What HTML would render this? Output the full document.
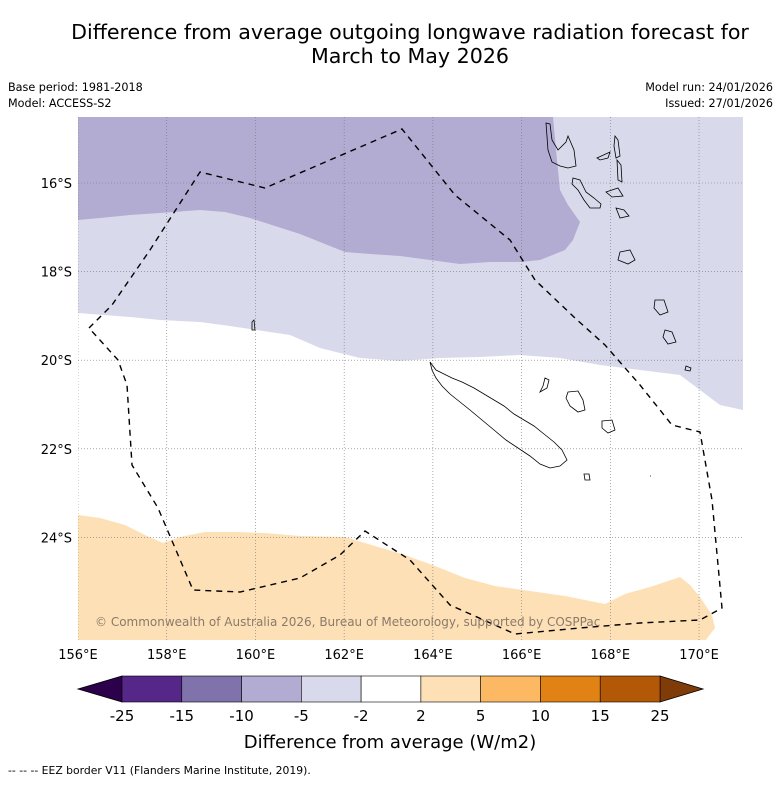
<!DOCTYPE html>
<html><head><meta charset="utf-8"><style>
html,body{margin:0;padding:0;background:#fff;}
body{width:781px;height:781px;overflow:hidden;font-family:"Liberation Sans","DejaVu Sans",sans-serif;}
svg text{font-family:"DejaVu Sans","Liberation Sans",sans-serif;}
</style></head><body>
<svg id="chart" width="781" height="781" viewBox="0 0 781 781" xmlns="http://www.w3.org/2000/svg">
<text x="410" y="39" text-anchor="middle" font-size="20.6">Difference from average outgoing longwave radiation forecast for</text>
<text x="410" y="63" text-anchor="middle" font-size="20.6">March to May 2026</text>
<text x="8" y="91" font-size="11.2">Base period: 1981-2018</text>
<text x="8" y="107" font-size="11.2">Model: ACCESS-S2</text>
<text x="773" y="91" font-size="11.2" text-anchor="end">Model run: 24/01/2026</text>
<text x="773" y="107" font-size="11.2" text-anchor="end">Issued: 27/01/2026</text>
<defs><clipPath id="mapclip"><rect x="78" y="117" width="665" height="523"/></clipPath></defs>
<g clip-path="url(#mapclip)">
<rect x="78" y="117" width="665" height="523" fill="#ffffff"/>
<path fill="#d8daeb" d="M78,117 L743,117 L743,410 L720,405 L700,390 L680,375 L640,370 L600,365 L560,358 L520,355 L480,357 L440,358 L400,361 L360,358 L320,348 L290,335 L270,332 L230,326 L200,322 L160,320 L130,317 L78,313 Z"/>
<path fill="#b2abd2" d="M78,117 L553,117 L556,150 L560,190 L568,205 L580,222 L573,240 L565,250 L540,260 L520,262 L490,262 L460,264 L430,260 L400,256 L370,254 L345,252 L320,242 L300,234 L275,226 L250,218 L225,212 L200,210 L160,213 L130,215 L100,218 L78,220 Z"/>
<path fill="#fee0b6" d="M78,515 L100,518 L125,525 L145,535 L163,543 L180,537 L205,532 L235,532 L265,533 L300,536 L345,537 L375,546 L405,555 L435,566 L465,578 L495,586 L530,591 L565,596 L585,600 L605,604 L625,594 L650,587 L680,577 L690,585 L700,597 L712,615 L715,628 L702,645 L78,645 Z"/>
<g id="grid"></g>
<g fill="none" stroke="#000" stroke-width="0.8">
<path d="M430,362 L436,370 L444,374 L452,378 L462,382 L474,388 L484,394 L494,400 L504,406 L514,414 L524,420 L534,426 L544,434 L554,442 L562,450 L567,460 L560,466 L550,468 L540,464 L530,456 L518,448 L506,440 L494,430 L482,420 L470,410 L460,402 L450,394 L442,386 L436,378 L432,370 Z"/>
<path d="M545,378 L549,380 L547,388 L540,392 L543,386 Z"/>
<path d="M568,392 L578,391 L583,400 L585,410 L578,412 L570,406 L566,398 Z"/>
<path d="M602,421 L612,420 L615,430 L608,433 L602,428 Z"/>
<path d="M584,474 L589,474 L590,480 L585,480 Z"/>
<path d="M546,123 L550,124 L552,140 L558,150 L566,142 L568,136 L574,150 L576,166 L568,168 L560,166 L552,162 L548,150 Z"/>
<path d="M573,178 L580,180 L586,192 L594,198 L601,204 L600,208 L590,208 L584,200 L578,190 L572,184 Z"/>
<path d="M615,136 L618,140 L620,156 L616,158 L614,146 Z"/>
<path d="M597,158 L610,152 L608,158 L600,160 Z"/>
<path d="M617,160 L621,165 L622,182 L618,180 Z"/>
<path d="M606,192 L618,188 L623,196 L612,197 Z"/>
<path d="M616,208 L624,210 L629,216 L620,218 Z"/>
<path d="M620,252 L630,250 L635,260 L628,264 L618,260 Z"/>
<path d="M655,300 L664,300 L668,312 L660,315 L654,308 Z"/>
<path d="M665,330 L672,332 L676,342 L668,344 L663,337 Z"/>
<path d="M686,366 L691,368 L690,371 L685,370 Z"/>
<path d="M650,476 L651,476"/>
<path d="M252,322 L254,320 L255,330 L252,330 Z"/>
</g>
<path id="eez" fill="none" stroke="#000" stroke-width="1.4" stroke-dasharray="6,5" d="M89,328 L112,305 L150,250 L200,172 L265,188 L330,160 L402,129 L455,195 L510,240 L535,280 L575,318 L605,345 L640,385 L672,425 L700,432 L712,500 L722,608 L700,620 L640,623 L580,628 L515,634 L450,605 L410,560 L365,531 L340,555 L300,578 L240,592 L193,590 L158,508 L132,465 L127,385 L118,360 Z"/>
<text x="95" y="626" font-size="12" fill="#8a7a6a">© Commonwealth of Australia 2026, Bureau of Meteorology, supported by COSPPac</text>
</g>
<g id="axes"></g>
<g id="colorbar"></g>
<text x="390" y="748" text-anchor="middle" font-size="18">Difference from average (W/m2)</text>
<text x="8" y="774" font-size="10.8">--  --  -- EEZ border V11 (Flanders Marine Institute, 2019).</text>
</svg>
<script>
const lonTicks = [156, 158, 160, 162, 164, 166, 168, 170];
const latTicks = [16, 18, 20, 22, 24];
const levelLabels = ["-25", "-15", "-10", "-5", "-2", "2", "5", "10", "15", "25"];
const levelColors = ["#542788", "#8073ac", "#b2abd2", "#d8daeb", "#ffffff", "#fee0b6", "#fdb863", "#e08214", "#b35806"];
const extendColors = ["#2d004b", "#7f3b08"];

const NS = "http://www.w3.org/2000/svg";
const mapL = 78, mapT = 117, mapR = 743, mapB = 640;
function xLon(lon){ return 78 + (lon - 156) * 44.36; }
function yLat(lat){ return 183 + (lat - 16) * 44.3; }
function mk(tag, attrs, parent){ const e = document.createElementNS(NS, tag); for (const k in attrs) e.setAttribute(k, attrs[k]); parent.appendChild(e); return e; }

const grid = document.getElementById('grid');
const axes = document.getElementById('axes');
lonTicks.forEach(lon => {
  const x = xLon(lon);
  const l = mk('line', {x1:x, x2:x, y1:mapT, y2:mapB, stroke:'#777', 'stroke-width':0.6, 'stroke-dasharray':'1,2'}, grid);
  
  
  const t = mk('text', {x:x, y:659, 'text-anchor':'middle', 'font-size':13}, axes);
  t.textContent = lon + '°E';
  
  
});
latTicks.forEach(lat => {
  const y = yLat(lat);
  const l = mk('line', {x1:mapL, x2:mapR, y1:y, y2:y, stroke:'#777', 'stroke-width':0.6, 'stroke-dasharray':'1,2'}, grid);
  
  
  const t = mk('text', {x:72, y:y+5, 'text-anchor':'end', 'font-size':13}, axes);
  t.textContent = lat + '°S';
  
  
});

const cb = document.getElementById('colorbar');
const cbL = 122, cbR = 660, cbT = 676, cbB = 702;
const segW = (cbR - cbL) / levelColors.length;
const lt = mk('polygon', {points:`${cbL},${cbT} 78,${(cbT+cbB)/2} ${cbL},${cbB}`, fill:extendColors[0], stroke:'#000', 'stroke-width':0.8}, cb);


const rt = mk('polygon', {points:`${cbR},${cbT} 703,${(cbT+cbB)/2} ${cbR},${cbB}`, fill:extendColors[1], stroke:'#000', 'stroke-width':0.8}, cb);


levelColors.forEach((c, i) => {
  const r = mk('rect', {x:cbL + i*segW, y:cbT, width:segW, height:cbB-cbT, fill:c, stroke:'#000', 'stroke-width':0.6}, cb);
  
  
});
levelLabels.forEach((s, i) => {
  const t = mk('text', {x:cbL + i*segW, y:721, 'text-anchor':'middle', 'font-size':15}, cb);
  t.textContent = s;
  
  
});
</script>
</body></html>
